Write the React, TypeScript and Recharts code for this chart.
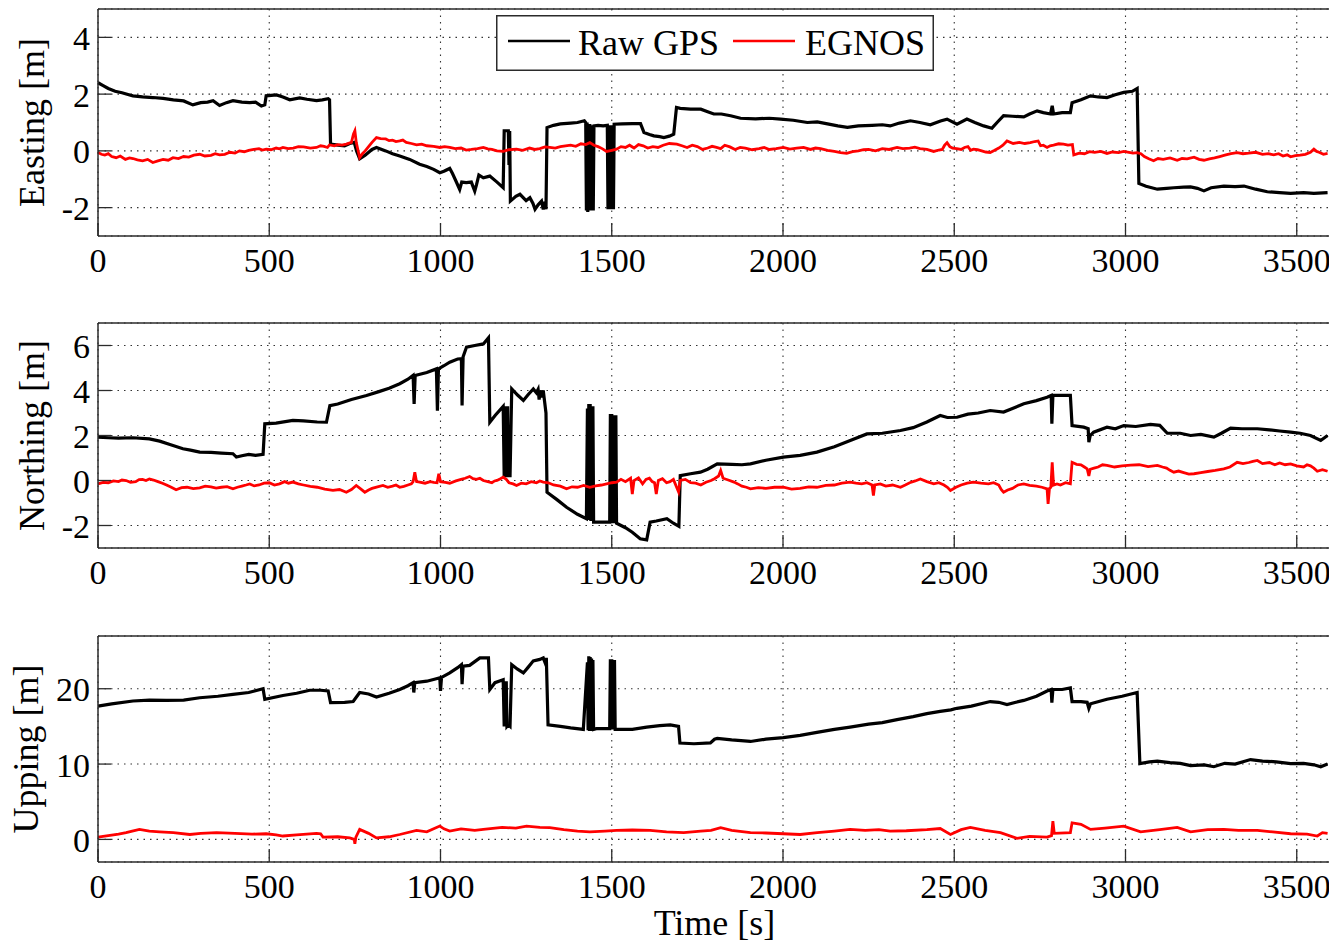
import React from 'react';
import { LineChart, Line, XAxis, YAxis, CartesianGrid, Legend } from 'recharts';

// ---------- data (time [s], value [m]) ----------
const timeTicks = [0, 500, 1000, 1500, 2000, 2500, 3000, 3500];
const eastingTicks = [-2, 0, 2, 4];
const northingTicks = [-2, 0, 2, 4, 6];
const uppingTicks = [0, 10, 20];

const eastingRaw: [number, number][] = [
  [0, 2.4], [15, 2.3], [30, 2.2], [50, 2.1], [70, 2.05], [90, 1.98], [102, 1.94], [130, 1.9], [160, 1.88], [190, 1.85],
  [220, 1.8], [250, 1.76], [277, 1.62], [300, 1.7], [320, 1.72], [336, 1.77], [355, 1.6], [375, 1.7], [394, 1.77], [420, 1.72],
  [443, 1.7], [460, 1.72], [477, 1.58], [487, 1.62], [491, 1.94], [521, 1.97], [540, 1.9], [560, 1.8], [589, 1.87], [610, 1.82],
  [638, 1.77], [655, 1.8], [672, 1.84], [676, 1.8], [679, 0.24], [700, 0.2], [720, 0.18], [735, 0.26], [748, 0.3], [755, 0.0],
  [764, -0.28], [780, -0.15], [800, 0.05], [813, 0.12], [840, 0.0], [860, -0.1], [881, -0.18], [910, -0.3], [939, -0.47], [960, -0.55],
  [980, -0.65], [998, -0.77], [1010, -0.72], [1027, -0.62], [1035, -0.8], [1045, -1.06], [1056, -1.36], [1062, -1.1], [1075, -1.12], [1090, -1.1],
  [1100, -1.42], [1105, -1.2], [1112, -0.85], [1125, -0.95], [1144, -0.89], [1165, -1.1], [1183, -1.3], [1186, 0.71], [1198, 0.71], [1200, -0.5],
  [1202, 0.7], [1204, -1.77], [1220, -1.6], [1232, -1.53], [1250, -1.75], [1261, -1.65], [1270, -1.85], [1276, -2.06], [1285, -1.9], [1295, -1.77],
  [1300, -2.06], [1305, -1.8], [1308, -2.06], [1311, 0.82], [1330, 0.9], [1350, 0.95], [1380, 0.98], [1400, 1.0], [1420, 1.06], [1424, 1.0],
  [1426, -2.1], [1428, 1.0], [1430, -2.15], [1432, 0.9], [1434, -2.1], [1436, 0.95], [1438, -2.1], [1440, 0.9], [1442, -2.0], [1444, 0.8],
  [1446, -2.1], [1448, 0.88], [1460, 0.9], [1475, 0.88], [1487, 0.9], [1489, -2.06], [1491, 0.9], [1493, -2.0], [1495, 0.9], [1497, -2.06],
  [1499, 0.9], [1501, -2.0], [1503, 0.9], [1505, -2.06], [1507, 0.94], [1530, 0.95], [1560, 0.96], [1584, 0.96], [1594, 0.65], [1610, 0.58],
  [1623, 0.53], [1640, 0.5], [1652, 0.47], [1668, 0.52], [1681, 0.59], [1689, 1.53], [1700, 1.5], [1730, 1.47], [1760, 1.47], [1780, 1.38],
  [1798, 1.3], [1820, 1.3], [1847, 1.24], [1876, 1.15], [1920, 1.13], [1960, 1.15], [1993, 1.12], [2030, 1.08], [2071, 1.0], [2100, 1.02],
  [2130, 0.95], [2160, 0.88], [2188, 0.83], [2220, 0.88], [2260, 0.9], [2290, 0.92], [2313, 0.88], [2340, 0.98], [2372, 1.06], [2400, 1.0],
  [2430, 0.92], [2460, 1.05], [2479, 1.12], [2508, 0.94], [2537, 1.12], [2560, 1.0], [2586, 0.88], [2610, 0.8], [2625, 1.0], [2644, 1.24],
  [2670, 1.22], [2703, 1.2], [2720, 1.3], [2742, 1.41], [2760, 1.35], [2781, 1.3], [2786, 1.59], [2790, 1.3], [2815, 1.35], [2839, 1.35],
  [2844, 1.7], [2870, 1.8], [2898, 1.94], [2920, 1.9], [2946, 1.88], [2970, 1.98], [2995, 2.06], [3020, 2.1], [3034, 2.2], [3039, -1.15],
  [3060, -1.25], [3093, -1.35], [3120, -1.32], [3141, -1.3], [3170, -1.28], [3190, -1.27], [3210, -1.32], [3229, -1.41], [3250, -1.3], [3287, -1.24],
  [3320, -1.26], [3346, -1.24], [3380, -1.35], [3414, -1.44], [3450, -1.47], [3482, -1.5], [3520, -1.47], [3550, -1.5], [3590, -1.47],
];

const eastingEgnos: [number, number][] = [
  [0, -0.06], [10, -0.12], [20, -0.15], [30, -0.1], [40, -0.2], [53, -0.24], [65, -0.18], [80, -0.3], [92, -0.25], [102, -0.27],
  [115, -0.32], [130, -0.35], [145, -0.3], [160, -0.41], [175, -0.35], [190, -0.3], [205, -0.33], [219, -0.24], [235, -0.27], [250, -0.2],
  [265, -0.22], [280, -0.15], [297, -0.12], [312, -0.18], [330, -0.16], [342, -0.1], [355, -0.14], [370, -0.12], [385, -0.05], [400, -0.08],
  [413, 0.0], [427, -0.03], [440, 0.02], [455, 0.05], [470, 0.08], [480, 0.03], [491, 0.06], [505, 0.04], [520, 0.1], [530, 0.07],
  [540, 0.12], [555, 0.08], [570, 0.1], [585, 0.15], [600, 0.14], [620, 0.1], [638, 0.12], [650, 0.18], [660, 0.16], [670, 0.12],
  [676, 0.21], [690, 0.18], [700, 0.22], [712, 0.2], [725, 0.24], [740, 0.3], [746, 0.6], [750, 0.71], [754, 0.3], [764, -0.24],
  [772, -0.1], [780, 0.0], [790, 0.15], [800, 0.3], [813, 0.47], [825, 0.43], [840, 0.42], [850, 0.36], [860, 0.38], [870, 0.33],
  [881, 0.35], [890, 0.38], [900, 0.3], [915, 0.26], [930, 0.21], [945, 0.24], [960, 0.18], [980, 0.16], [998, 0.12], [1012, 0.15],
  [1027, 0.12], [1043, 0.08], [1060, 0.1], [1075, 0.03], [1090, 0.05], [1108, 0.08], [1125, 0.12], [1138, 0.07], [1150, 0.05], [1165, 0.0],
  [1183, -0.02], [1200, 0.04], [1222, 0.06], [1240, 0.02], [1260, 0.1], [1275, 0.05], [1290, 0.08], [1305, 0.14], [1319, 0.12], [1335, 0.1],
  [1350, 0.15], [1365, 0.18], [1380, 0.2], [1395, 0.16], [1410, 0.25], [1424, 0.22], [1436, 0.29], [1448, 0.2], [1460, 0.15], [1472, 0.08],
  [1485, -0.02], [1500, 0.02], [1514, 0.06], [1527, 0.15], [1540, 0.12], [1552, 0.2], [1565, 0.1], [1578, 0.22], [1592, 0.18], [1605, 0.1],
  [1620, 0.15], [1635, 0.12], [1650, 0.2], [1668, 0.26], [1690, 0.24], [1705, 0.18], [1720, 0.12], [1735, 0.2], [1750, 0.15], [1765, 0.05],
  [1780, 0.1], [1793, 0.16], [1806, 0.12], [1818, 0.08], [1830, 0.2], [1845, 0.14], [1860, 0.05], [1875, 0.12], [1890, 0.1], [1910, 0.04],
  [1930, 0.08], [1945, 0.12], [1960, 0.05], [1980, 0.08], [2001, 0.12], [2020, 0.06], [2040, 0.1], [2060, 0.12], [2080, 0.05], [2095, 0.1],
  [2110, 0.08], [2130, 0.02], [2150, -0.02], [2168, -0.06], [2186, -0.09], [2203, -0.03], [2220, 0.0], [2235, 0.04], [2250, 0.05], [2270, 0.0],
  [2290, 0.08], [2310, 0.05], [2333, 0.12], [2350, 0.08], [2370, 0.1], [2385, 0.13], [2400, 0.08], [2420, 0.05], [2440, -0.02], [2455, 0.03],
  [2465, 0.05], [2472, 0.2], [2479, 0.29], [2487, 0.15], [2495, 0.1], [2507, 0.08], [2520, 0.05], [2530, 0.12], [2540, 0.15], [2548, 0.02],
  [2556, 0.06], [2568, 0.04], [2580, 0.0], [2592, -0.04], [2605, -0.06], [2618, 0.02], [2630, 0.1], [2642, 0.2], [2654, 0.35], [2672, 0.26],
  [2690, 0.3], [2706, 0.26], [2722, 0.29], [2735, 0.33], [2745, 0.35], [2752, 0.18], [2760, 0.2], [2771, 0.12], [2780, 0.18], [2790, 0.2],
  [2805, 0.25], [2819, 0.24], [2832, 0.2], [2845, 0.22], [2849, -0.14], [2865, -0.08], [2880, -0.1], [2895, -0.03], [2910, -0.05], [2928, -0.02],
  [2946, -0.09], [2962, -0.04], [2980, -0.06], [2995, -0.02], [3010, -0.05], [3022, -0.08], [3034, -0.06], [3045, -0.1], [3055, -0.2], [3068, -0.28],
  [3082, -0.35], [3095, -0.27], [3110, -0.3], [3130, -0.25], [3151, -0.33], [3165, -0.27], [3180, -0.28], [3200, -0.22], [3215, -0.3], [3229, -0.33],
  [3245, -0.28], [3260, -0.25], [3275, -0.2], [3290, -0.15], [3308, -0.1], [3326, -0.06], [3343, -0.1], [3360, -0.08], [3380, -0.05], [3400, -0.12],
  [3417, -0.1], [3433, -0.14], [3447, -0.1], [3460, -0.18], [3472, -0.14], [3482, -0.21], [3496, -0.17], [3510, -0.15], [3525, -0.12], [3540, -0.05],
  [3550, 0.06], [3558, -0.02], [3565, -0.05], [3578, -0.12], [3590, -0.09],
];

const northingRaw: [number, number][] = [
  [0, 1.93], [30, 1.9], [60, 1.88], [102, 1.9], [150, 1.85], [180, 1.75], [210, 1.6], [248, 1.41], [270, 1.35], [297, 1.26],
  [330, 1.25], [360, 1.22], [394, 1.19], [404, 1.04], [420, 1.1], [440, 1.16], [460, 1.12], [482, 1.16], [487, 2.52], [520, 2.55],
  [569, 2.67], [600, 2.65], [640, 2.6], [667, 2.59], [677, 3.33], [700, 3.4], [740, 3.6], [784, 3.78], [820, 3.95], [850, 4.1],
  [881, 4.3], [905, 4.5], [920, 4.67], [923, 3.4], [926, 4.67], [960, 4.8], [988, 4.96], [991, 3.1], [994, 4.96], [1010, 5.1],
  [1027, 5.26], [1050, 5.4], [1061, 5.41], [1063, 3.33], [1066, 5.5], [1076, 5.93], [1100, 6.0], [1125, 6.07], [1140, 6.34], [1144, 2.59],
  [1160, 2.9], [1183, 3.29], [1186, 0.15], [1188, 3.3], [1190, 0.15], [1192, 3.3], [1194, 0.15], [1196, 3.3], [1198, 0.15], [1200, 0.5],
  [1203, 0.15], [1208, 4.07], [1225, 3.8], [1242, 3.56], [1255, 3.8], [1271, 4.07], [1280, 3.9], [1285, 4.05], [1288, 3.6], [1291, 4.0],
  [1294, 3.7], [1300, 4.0], [1304, 3.5], [1308, 3.0], [1311, -0.52], [1340, -0.85], [1368, -1.19], [1400, -1.5], [1426, -1.7], [1429, 3.2],
  [1431, -1.7], [1433, 3.4], [1435, -1.75], [1437, 3.4], [1439, -1.8], [1441, 3.3], [1443, -1.8], [1445, 3.3], [1447, -1.85], [1455, -1.85],
  [1475, -1.85], [1494, -1.85], [1496, 2.96], [1498, -1.9], [1500, 2.96], [1502, -1.9], [1504, 2.9], [1506, -1.9], [1508, 2.9], [1510, -1.9],
  [1512, 2.9], [1514, -1.9], [1540, -2.1], [1560, -2.3], [1583, -2.59], [1602, -2.64], [1612, -1.85], [1630, -1.8], [1661, -1.7], [1680, -1.9],
  [1696, -2.04], [1700, 0.22], [1730, 0.3], [1759, 0.37], [1780, 0.5], [1808, 0.74], [1850, 0.72], [1880, 0.7], [1905, 0.74], [1950, 0.9],
  [2001, 1.04], [2050, 1.12], [2099, 1.26], [2150, 1.5], [2200, 1.8], [2245, 2.07], [2290, 2.1], [2343, 2.22], [2380, 2.35], [2420, 2.6],
  [2459, 2.89], [2480, 2.8], [2508, 2.81], [2540, 2.95], [2570, 3.0], [2605, 3.11], [2644, 3.04], [2670, 3.2], [2703, 3.41], [2740, 3.55],
  [2771, 3.7], [2783, 3.78], [2785, 2.52], [2788, 3.78], [2820, 3.78], [2839, 3.78], [2844, 2.44], [2878, 2.37], [2891, 2.3], [2893, 1.7],
  [2897, 2.0], [2907, 2.15], [2946, 2.37], [2970, 2.3], [2995, 2.44], [3030, 2.4], [3073, 2.49], [3100, 2.45], [3122, 2.1], [3160, 2.1],
  [3190, 2.0], [3220, 2.05], [3258, 1.93], [3280, 2.1], [3307, 2.33], [3340, 2.3], [3385, 2.3], [3420, 2.25], [3450, 2.2], [3482, 2.15],
  [3510, 2.1], [3540, 2.0], [3570, 1.78], [3590, 2.0],
];

const northingEgnos: [number, number][] = [
  [0, -0.15], [15, -0.08], [30, -0.1], [45, -0.02], [60, -0.05], [70, 0.02], [82, 0.0], [95, -0.08], [110, -0.05], [120, 0.04],
  [130, 0.05], [140, 0.0], [150, 0.07], [162, 0.02], [175, -0.05], [188, -0.12], [200, -0.2], [214, -0.3], [228, -0.41], [244, -0.32],
  [260, -0.3], [278, -0.36], [297, -0.33], [313, -0.25], [330, -0.28], [345, -0.34], [360, -0.3], [377, -0.27], [394, -0.37], [407, -0.3],
  [420, -0.25], [432, -0.2], [443, -0.15], [456, -0.24], [470, -0.2], [485, -0.12], [500, -0.1], [515, -0.2], [530, -0.15], [545, -0.05],
  [556, -0.12], [569, -0.07], [585, -0.15], [600, -0.2], [620, -0.26], [640, -0.3], [662, -0.38], [686, -0.44], [705, -0.4], [725, -0.52],
  [740, -0.4], [754, -0.22], [765, -0.35], [779, -0.52], [790, -0.42], [800, -0.35], [816, -0.28], [832, -0.22], [846, -0.3], [860, -0.25],
  [870, -0.2], [881, -0.3], [893, -0.26], [905, -0.2], [915, -0.15], [920, -0.05], [925, 0.37], [930, -0.05], [939, -0.07], [955, -0.12],
  [970, -0.05], [980, -0.08], [990, -0.1], [995, 0.3], [1000, -0.05], [1014, -0.08], [1027, -0.12], [1045, -0.02], [1060, 0.05], [1072, 0.1],
  [1085, 0.18], [1095, 0.08], [1105, 0.05], [1115, 0.1], [1125, 0.0], [1138, -0.05], [1150, -0.1], [1158, -0.02], [1165, 0.0], [1175, 0.08],
  [1183, 0.15], [1192, 0.05], [1200, -0.1], [1212, -0.15], [1222, -0.22], [1236, -0.12], [1250, -0.15], [1265, -0.05], [1280, -0.1], [1290, -0.02],
  [1300, -0.07], [1315, -0.1], [1330, -0.2], [1350, -0.25], [1368, -0.37], [1384, -0.28], [1400, -0.3], [1418, -0.22], [1436, -0.3], [1453, -0.24],
  [1470, -0.2], [1485, -0.15], [1500, -0.1], [1514, -0.07], [1527, 0.05], [1540, -0.05], [1555, 0.1], [1560, -0.6], [1565, 0.0], [1578, 0.12],
  [1590, -0.15], [1600, 0.05], [1610, 0.1], [1618, -0.05], [1625, -0.1], [1630, -0.6], [1636, 0.0], [1648, 0.08], [1660, -0.1], [1670, -0.05],
  [1680, 0.05], [1695, -0.5], [1700, 0.0], [1715, 0.05], [1730, -0.1], [1745, -0.12], [1760, -0.2], [1775, -0.08], [1790, 0.0], [1800, 0.08],
  [1812, 0.2], [1818, 0.44], [1825, 0.1], [1840, 0.02], [1857, -0.07], [1868, -0.15], [1880, -0.25], [1893, -0.3], [1905, -0.37], [1928, -0.32],
  [1950, -0.35], [1975, -0.3], [2001, -0.3], [2025, -0.38], [2050, -0.35], [2075, -0.28], [2099, -0.3], [2125, -0.22], [2150, -0.2], [2172, -0.12],
  [2196, -0.07], [2213, -0.12], [2230, -0.15], [2245, -0.1], [2260, -0.2], [2264, -0.67], [2268, -0.2], [2284, -0.15], [2300, -0.25], [2320, -0.2],
  [2343, -0.3], [2357, -0.2], [2370, -0.1], [2386, -0.02], [2401, 0.07], [2420, -0.05], [2440, -0.15], [2455, -0.1], [2470, -0.2], [2480, -0.3],
  [2489, -0.44], [2505, -0.3], [2520, -0.2], [2538, -0.12], [2556, -0.07], [2578, -0.12], [2600, -0.15], [2615, -0.1], [2630, -0.2], [2637, -0.4],
  [2644, -0.52], [2656, -0.42], [2670, -0.35], [2686, -0.2], [2703, -0.15], [2720, -0.22], [2740, -0.25], [2756, -0.3], [2771, -0.37], [2774, -1.04],
  [2778, -0.35], [2782, -0.3], [2786, 0.81], [2790, -0.2], [2800, -0.15], [2810, -0.2], [2825, -0.1], [2839, -0.15], [2844, 0.81], [2857, 0.72],
  [2870, 0.7], [2880, 0.6], [2888, 0.52], [2893, 0.2], [2897, 0.5], [2908, 0.55], [2920, 0.6], [2933, 0.7], [2946, 0.67], [2968, 0.6],
  [2990, 0.65], [3015, 0.68], [3040, 0.7], [3066, 0.62], [3093, 0.67], [3108, 0.6], [3120, 0.55], [3130, 0.45], [3141, 0.37], [3155, 0.42],
  [3170, 0.35], [3185, 0.28], [3200, 0.3], [3220, 0.35], [3240, 0.4], [3262, 0.45], [3287, 0.52], [3305, 0.6], [3326, 0.81], [3343, 0.75],
  [3360, 0.8], [3372, 0.85], [3385, 0.89], [3400, 0.75], [3420, 0.8], [3436, 0.7], [3450, 0.78], [3466, 0.7], [3482, 0.74], [3500, 0.65],
  [3520, 0.6], [3530, 0.7], [3540, 0.65], [3550, 0.55], [3560, 0.41], [3575, 0.48], [3590, 0.41],
];

const uppingRaw: [number, number][] = [
  [0, 17.7], [40, 18.0], [102, 18.37], [150, 18.5], [199, 18.45], [250, 18.5], [297, 18.8], [350, 19.0], [394, 19.25], [440, 19.5],
  [482, 20.0], [487, 18.6], [540, 19.1], [580, 19.4], [618, 19.8], [650, 19.8], [672, 19.7], [679, 18.15], [720, 18.2], [745, 18.3],
  [764, 19.5], [790, 19.3], [813, 18.9], [850, 19.4], [881, 19.9], [905, 20.4], [920, 20.8], [922, 19.5], [925, 20.8], [960, 21.0],
  [985, 21.3], [998, 21.46], [1000, 19.7], [1003, 21.5], [1027, 22.1], [1050, 22.8], [1061, 23.2], [1063, 20.6], [1066, 23.0], [1085, 23.1],
  [1100, 23.6], [1115, 24.1], [1140, 24.1], [1144, 19.9], [1159, 20.8], [1183, 21.2], [1186, 15.0], [1188, 21.0], [1190, 15.0], [1192, 21.0],
  [1194, 15.0], [1198, 15.2], [1203, 15.0], [1208, 23.2], [1225, 22.6], [1242, 22.1], [1255, 22.8], [1271, 23.7], [1290, 23.9], [1300, 24.1],
  [1305, 23.5], [1309, 24.1], [1314, 15.2], [1350, 15.0], [1380, 14.8], [1417, 14.6], [1429, 23.5], [1431, 14.5], [1433, 24.3], [1435, 14.4],
  [1437, 24.2], [1439, 14.5], [1441, 24.0], [1443, 14.4], [1445, 23.8], [1447, 14.6], [1455, 14.7], [1475, 14.7], [1494, 14.7], [1496, 23.9],
  [1498, 14.6], [1500, 23.9], [1502, 14.6], [1504, 23.8], [1506, 14.6], [1508, 23.8], [1510, 14.6], [1524, 14.6], [1560, 14.6], [1602, 14.9],
  [1640, 15.1], [1671, 15.2], [1695, 15.0], [1699, 12.8], [1740, 12.7], [1788, 12.8], [1800, 13.3], [1808, 13.4], [1850, 13.2], [1905, 13.0],
  [1950, 13.3], [2001, 13.5], [2050, 13.8], [2099, 14.2], [2150, 14.6], [2196, 14.9], [2250, 15.3], [2290, 15.5], [2333, 15.9], [2380, 16.3],
  [2420, 16.7], [2459, 17.0], [2490, 17.2], [2508, 17.4], [2550, 17.7], [2605, 18.3], [2630, 18.2], [2654, 17.9], [2680, 18.2], [2703, 18.45],
  [2740, 19.0], [2771, 19.7], [2783, 19.9], [2785, 18.15], [2788, 19.9], [2815, 19.9], [2839, 20.1], [2844, 18.3], [2870, 18.3], [2888, 18.2],
  [2893, 17.4], [2898, 18.0], [2946, 18.6], [2990, 19.0], [3034, 19.5], [3042, 10.05], [3070, 10.3], [3093, 10.4], [3130, 10.2], [3160, 10.1],
  [3190, 9.8], [3230, 9.9], [3258, 9.65], [3290, 10.1], [3320, 10.0], [3365, 10.6], [3400, 10.4], [3440, 10.3], [3482, 10.05], [3520, 10.1],
  [3550, 9.9], [3570, 9.65], [3590, 10.0],
];

const uppingEgnos: [number, number][] = [
  [0, 0.3], [30, 0.5], [60, 0.7], [82, 0.9], [100, 1.1], [121, 1.33], [150, 1.1], [180, 1.0], [220, 0.9], [268, 0.65],
  [300, 0.8], [346, 0.9], [400, 0.8], [450, 0.7], [491, 0.75], [520, 0.6], [540, 0.45], [580, 0.6], [638, 0.8], [650, 0.75],
  [657, 0.3], [700, 0.35], [735, 0.2], [748, 0.0], [750, -0.58], [753, 0.3], [764, 1.33], [790, 0.8], [813, 0.2], [850, 0.35],
  [881, 0.65], [930, 1.2], [960, 1.0], [998, 1.77], [1010, 1.4], [1027, 1.1], [1060, 1.4], [1100, 1.2], [1125, 1.33], [1180, 1.6],
  [1220, 1.5], [1251, 1.77], [1290, 1.6], [1319, 1.55], [1360, 1.3], [1400, 1.1], [1436, 1.0], [1480, 1.1], [1514, 1.2], [1560, 1.25],
  [1612, 1.2], [1660, 1.0], [1710, 0.9], [1760, 1.1], [1790, 1.2], [1818, 1.55], [1850, 1.2], [1905, 0.9], [1950, 0.85], [2001, 0.75],
  [2050, 0.65], [2100, 0.9], [2150, 1.1], [2196, 1.33], [2240, 1.2], [2280, 1.3], [2313, 1.1], [2360, 1.15], [2420, 1.3], [2459, 1.44],
  [2489, 0.65], [2520, 1.3], [2547, 1.6], [2590, 1.2], [2635, 0.9], [2683, 0.13], [2720, 0.4], [2771, 0.3], [2784, 0.5], [2788, 2.43],
  [2792, 0.8], [2839, 0.9], [2844, 2.2], [2870, 2.0], [2898, 1.33], [2940, 1.5], [2995, 1.77], [3044, 1.0], [3100, 1.3], [3151, 1.6],
  [3190, 1.0], [3240, 1.3], [3287, 1.33], [3330, 1.2], [3385, 1.2], [3430, 1.0], [3482, 0.75], [3530, 0.7], [3560, 0.45], [3575, 0.9],
  [3590, 0.8],
];

// ---------- styling ----------
const FONT = '"Liberation Serif", "Times New Roman", serif';
const AXIS = '#2b2b2b';
const TICK_LEN = 13;
const W = 1337;
const PLOT_LEFT = 98;
const PLOT_RIGHT = 1331;
const textStyle = { fontFamily: FONT };

const toPts = (arr: [number, number][]) => arr.map(([t, v]) => ({ t, v }));

const LeftTick = (p: any) => {
  const { x, y, payload } = p;
  return (
    <g>
      <line x1={x} x2={x + TICK_LEN} y1={y} y2={y} stroke={AXIS} strokeWidth={1.3} />
      <text x={x - 8} y={y + 12.5} textAnchor="end" fontFamily={FONT} style={textStyle} fontSize={34} fill="#000">
        {payload.value}
      </text>
    </g>
  );
};
const RightTick = (p: any) => {
  const { x, y } = p;
  return <line x1={x - TICK_LEN} x2={x} y1={y} y2={y} stroke={AXIS} strokeWidth={1.3} />;
};
const BottomTick = (p: any) => {
  const { x, y, payload } = p;
  return (
    <g>
      <line x1={x} x2={x} y1={y - TICK_LEN} y2={y} stroke={AXIS} strokeWidth={1.3} />
      <text x={x} y={y + 35.5} textAnchor="middle" fontFamily={FONT} style={textStyle} fontSize={34} fill="#000">
        {payload.value}
      </text>
    </g>
  );
};
const TopTick = (p: any) => {
  const { x, y } = p;
  return <line x1={x} x2={x} y1={y} y2={y + TICK_LEN} stroke={AXIS} strokeWidth={1.3} />;
};

const YLabel = (p: any) => {
  const vb = p.viewBox || {};
  const cx = p.bx;
  const cy = vb.y + vb.height / 2;
  return (
    <text x={cx} y={cy} transform={`rotate(-90 ${cx} ${cy})`} textAnchor="middle" fontFamily={FONT} style={textStyle} fontSize={36} fill="#000">
      {p.text}
    </text>
  );
};

const XLabel = (p: any) => {
  const vb = p.viewBox || {};
  const cx = vb.x + vb.width / 2;
  const cy = vb.y + 73;
  return (
    <text x={cx} y={cy} textAnchor="middle" fontFamily={FONT} style={textStyle} fontSize={36} fill="#000">
      Time [s]
    </text>
  );
};

const LegendBox = () => (
  <svg width={438} height={56} style={{ display: 'block' }}>
    <rect x={0.75} y={0.75} width={436.5} height={54.5} fill="#fff" stroke={AXIS} strokeWidth={1.5} />
    <line x1={12} x2={74} y1={26} y2={26} stroke="#000" strokeWidth={2.6} />
    <text x={82} y={40} fontFamily={FONT} style={textStyle} fontSize={36} fill="#000">Raw GPS</text>
    <line x1={237} x2={299} y1={26} y2={26} stroke="#ff0000" strokeWidth={2.6} />
    <text x={309} y={40} fontFamily={FONT} style={textStyle} fontSize={36} fill="#000">EGNOS</text>
  </svg>
);

type PanelProps = {
  top: number;
  height: number;
  plotHeight: number;
  raw: [number, number][];
  egnos: [number, number][];
  domain: [number, number];
  ticks: number[];
  label: string;
  labelX: number;
  legend?: boolean;
  timeLabel?: boolean;
};

const Panel = ({ top, height, plotHeight, raw, egnos, domain, ticks, label, labelX, legend, timeLabel }: PanelProps) => {
  const plotTop = 9;
  const mBottom = height - plotTop - plotHeight;
  return (
    <div style={{ position: 'absolute', left: 0, top, width: W, height }}>
      <LineChart
        width={W}
        height={height}
        margin={{ top: plotTop - 1, right: W - PLOT_RIGHT - 1, left: PLOT_LEFT - 1, bottom: mBottom - 1 }}
      >
        <CartesianGrid stroke="#333" strokeDasharray="1.5 5" strokeWidth={1.1} />
        <XAxis
          dataKey="t"
          type="number"
          domain={[0, 3600]}
          ticks={timeTicks}
          interval={0}
          height={1}
          tickSize={0}
          tickMargin={0}
          tickLine={false}
          axisLine={{ stroke: AXIS, strokeWidth: 1.5 }}
          tick={BottomTick}
          label={timeLabel ? <XLabel /> : undefined}
        />
        <XAxis
          xAxisId="top"
          orientation="top"
          dataKey="t"
          type="number"
          domain={[0, 3600]}
          ticks={timeTicks}
          interval={0}
          height={1}
          tickSize={0}
          tickMargin={0}
          tickLine={false}
          axisLine={{ stroke: AXIS, strokeWidth: 1.5 }}
          tick={TopTick}
        />
        <YAxis
          type="number"
          domain={domain}
          ticks={ticks}
          interval={0}
          width={1}
          tickSize={0}
          tickMargin={0}
          tickLine={false}
          axisLine={{ stroke: AXIS, strokeWidth: 1.5 }}
          tick={LeftTick}
          label={<YLabel text={label} bx={labelX} />}
        />
        <YAxis
          yAxisId="right"
          orientation="right"
          type="number"
          domain={domain}
          ticks={ticks}
          interval={0}
          width={1}
          tickSize={0}
          tickMargin={0}
          tickLine={false}
          axisLine={{ stroke: AXIS, strokeWidth: 1.5 }}
          tick={RightTick}
        />
        <Line
          data={toPts(raw)}
          dataKey="v"
          name="Raw GPS"
          type="linear"
          stroke="#000"
          strokeWidth={3.2}
          dot={false}
          isAnimationActive={false}
        />
        <Line
          data={toPts(egnos)}
          dataKey="v"
          name="EGNOS"
          type="linear"
          stroke="#ff0000"
          strokeWidth={2.8}
          dot={false}
          isAnimationActive={false}
        />
        {legend ? (
          <Legend
            layout="horizontal"
            verticalAlign="middle"
            align="center"
            content={() => <LegendBox />}
            wrapperStyle={{ left: 496, top: 15, width: 438, height: 56 }}
          />
        ) : null}
      </LineChart>
    </div>
  );
};

export default function App() {
  return (
    <div style={{ position: 'relative', width: W, height: 947, margin: '-8px 0 0 -8px', background: '#fff' }}>
      <Panel top={0} height={300} plotHeight={227} raw={eastingRaw} egnos={eastingEgnos}
        domain={[-3, 5]} ticks={eastingTicks} label="Easting [m]" labelX={44} legend />
      <Panel top={314} height={300} plotHeight={225} raw={northingRaw} egnos={northingEgnos}
        domain={[-3, 7]} ticks={northingTicks} label="Northing [m]" labelX={44} />
      <Panel top={627} height={320} plotHeight={226} raw={uppingRaw} egnos={uppingEgnos}
        domain={[-3, 27]} ticks={uppingTicks} label="Upping [m]" labelX={38} timeLabel />
    </div>
  );
}
